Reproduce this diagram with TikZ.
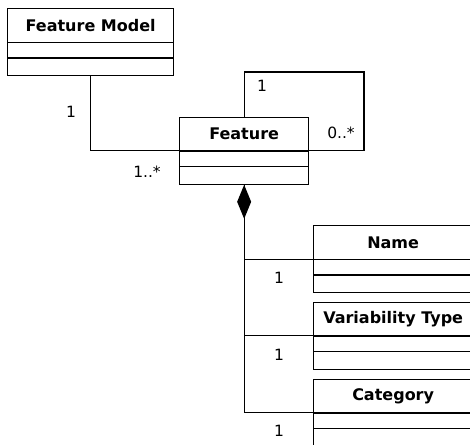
\documentclass[tikz,border=0pt]{standalone}
\usepackage{fontspec}
\setmainfont{DejaVu Sans}
\usetikzlibrary{arrows.meta,calc}
\tikzset{
  x=1pt, y=-1pt,
  line/.style={line width=1.3pt, line join=miter},
  classbox/.style={draw, line width=1.3pt, rectangle, inner sep=0pt, anchor=north west, minimum height=67pt},
  title/.style={font=\fontsize{16}{19}\selectfont\bfseries, inner sep=0pt},
  mult/.style={font=\fontsize{15.5}{18}\selectfont, inner sep=0pt},
}
% #1 name, #2 x left, #3 y top, #4 width, #5 title
\newcommand{\umlcls}[5]{%
  \node[classbox, minimum width=#4pt] (#1) at (#2,#3) {};
  \node[title] (#1t) at ($(#1.north)+(0,17.5)$) {#5};
  \draw[line] ($(#1.north west)+(0,34.5)$) -- ($(#1.north east)+(0,34.5)$);
  \draw[line] ($(#1.north west)+(0,50)$) -- ($(#1.north east)+(0,50)$);
}
\begin{document}
\begin{tikzpicture}
\clip (0,0) rectangle (470,444);
\fill[white] (0,0) rectangle (470,444);
\umlcls{fm}{7}{8}{166}{Feature Model}
\umlcls{feat}{179}{116.5}{129}{Feature}
\umlcls{name}{313}{225}{159}{Name}
\umlcls{vt}{313}{301.5}{159}{Variability Type}
\umlcls{cat}{313}{378.5}{159}{Category}
\coordinate (loop) at (364,72);
\draw[line] (fm.south) |- (feat.west);
\draw[line] (feat.north) |- (loop) |- (feat.east);
\draw[line, {Diamond[length=34pt, width=14pt]}-] (feat.south) |- (name.west);
\draw[line] (feat.south) |- (vt.west);
\draw[line] (feat.south) |- (cat.west);
\node[mult] (m1) at (71,112) {1};
\node[mult] (m2) at (147,172) {1..*};
\node[mult] (m3) at (262,86) {1};
\node[mult] (m4) at (341,133) {0..*};
\node[mult] (m5) at (279,278) {1};
\node[mult] (m6) at (279,355) {1};
\node[mult] (m7) at (279,431) {1};
\end{tikzpicture}
\end{document}
